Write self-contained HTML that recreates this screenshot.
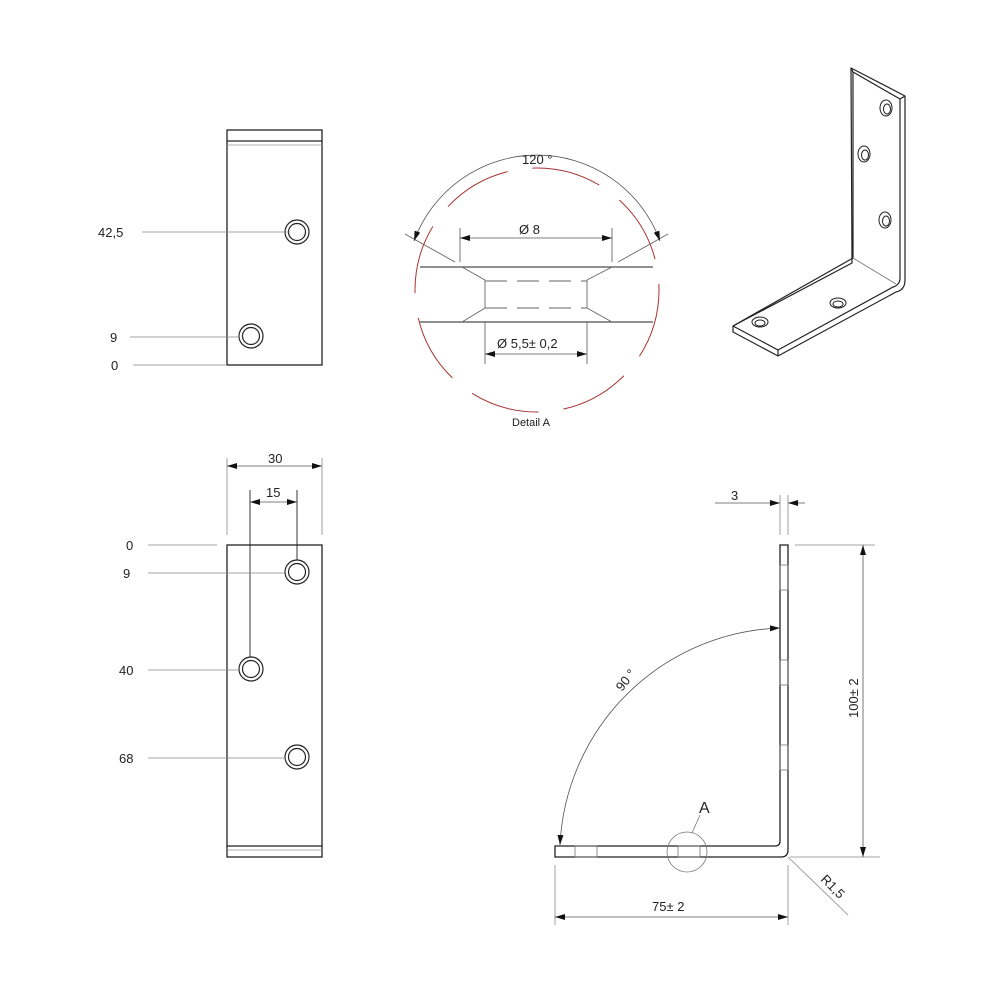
<!DOCTYPE html>
<html><head><meta charset="utf-8"><style>html,body{margin:0;padding:0;background:#fff}svg{display:block}</style></head><body>
<svg width="1000" height="1000" viewBox="0 0 1000 1000" xmlns="http://www.w3.org/2000/svg" font-family="Liberation Sans, sans-serif" font-size="13" fill="none">
<defs>
<marker id="ar" viewBox="0 0 10 6" refX="10" refY="3" markerWidth="10" markerHeight="6" orient="auto-start-reverse" markerUnits="userSpaceOnUse"><path d="M0,0L10,3L0,6z" fill="#111"/></marker>
</defs>
<!-- top-left view -->
<g stroke="#222">
<rect x="227" y="130" width="95" height="235" stroke-width="1.3"/>
<line x1="227" y1="141" x2="322" y2="141" stroke-width="1.3"/>
<line x1="227" y1="145" x2="322" y2="145" stroke="#999" stroke-width="0.8"/>
<circle cx="297" cy="232" r="12" stroke-width="1.2"/><circle cx="297" cy="232" r="8.5" stroke-width="1.2"/>
<circle cx="251" cy="336" r="12" stroke-width="1.2"/><circle cx="251" cy="336" r="8.5" stroke-width="1.2"/>
</g>
<g stroke="#888" stroke-width="0.8">
<line x1="142" y1="232" x2="290" y2="232"/><line x1="130" y1="337" x2="240" y2="337"/><line x1="133" y1="365" x2="227" y2="365"/>
</g>
<g fill="#222"><text x="98" y="237">42,5</text><text x="110" y="342">9</text><text x="111" y="370">0</text></g>

<!-- bottom-left view -->
<g stroke="#222">
<rect x="227" y="545" width="95" height="312" stroke-width="1.3"/>
<line x1="227" y1="846" x2="322" y2="846" stroke-width="1.3"/>
<line x1="227" y1="850" x2="322" y2="850" stroke="#999" stroke-width="0.8"/>
<circle cx="297" cy="572" r="12" stroke-width="1.2"/><circle cx="297" cy="572" r="8.5" stroke-width="1.2"/>
<circle cx="251" cy="669" r="12" stroke-width="1.2"/><circle cx="251" cy="669" r="8.5" stroke-width="1.2"/>
<circle cx="297" cy="757" r="12" stroke-width="1.2"/><circle cx="297" cy="757" r="8.5" stroke-width="1.2"/>
<line x1="250" y1="490" x2="250" y2="657" stroke-width="0.9"/>
<line x1="297" y1="490" x2="297" y2="560" stroke-width="0.9"/>
</g>
<g stroke="#888" stroke-width="0.8">
<line x1="148" y1="545" x2="217" y2="545"/><line x1="148" y1="573" x2="285" y2="573"/><line x1="148" y1="670" x2="239" y2="670"/><line x1="148" y1="758" x2="285" y2="758"/>
<line x1="227" y1="458" x2="227" y2="535"/><line x1="322" y1="458" x2="322" y2="535"/>
</g>
<g stroke="#555" stroke-width="0.8">
<line x1="227" y1="466" x2="322" y2="466" marker-start="url(#ar)" marker-end="url(#ar)"/>
<line x1="250" y1="502" x2="297" y2="502" marker-start="url(#ar)" marker-end="url(#ar)"/>
</g>
<g fill="#222"><text x="268" y="463">30</text><text x="266" y="497">15</text>
<text x="126" y="550">0</text><text x="123" y="578">9</text><text x="119" y="675">40</text><text x="119" y="763">68</text></g>

<!-- detail A -->
<circle cx="537" cy="290" r="122" stroke="#a33" stroke-width="1" stroke-dasharray="70 25"/>
<g stroke="#222" stroke-width="1.1">
<line x1="420" y1="267" x2="653" y2="267"/><line x1="420" y1="322" x2="653" y2="322"/>
</g>
<g stroke="#666" stroke-width="0.9">
<path d="M462,267L485,280L485,308L462,322M612,267L587,280L587,308L612,322"/>
<line x1="485" y1="281" x2="587" y2="281" stroke-dasharray="22 10"/>
<line x1="485" y1="308" x2="587" y2="308" stroke-dasharray="22 10"/>
<line x1="460" y1="228" x2="460" y2="262"/><line x1="612" y1="228" x2="612" y2="262"/>
<line x1="485" y1="322" x2="485" y2="364"/><line x1="587" y1="322" x2="587" y2="364"/>
<line x1="405" y1="234" x2="455" y2="262"/><line x1="668" y1="234" x2="618" y2="262"/>
</g>
<g stroke="#555" stroke-width="0.8">
<line x1="460" y1="238" x2="612" y2="238" marker-start="url(#ar)" marker-end="url(#ar)"/>
<line x1="485" y1="354" x2="587" y2="354" marker-start="url(#ar)" marker-end="url(#ar)"/>
<path d="M414,241A131,131 0 0 1 660,241" marker-start="url(#ar)" marker-end="url(#ar)"/>
</g>
<g fill="#222"><text x="519" y="234">Ø 8</text><text x="497" y="348">Ø 5,5± 0,2</text><text x="522" y="164">120 °</text>
<text x="512" y="426" font-size="11">Detail A</text></g>

<!-- isometric -->
<g stroke="#222" stroke-width="1.2" stroke-linejoin="round">
<path d="M851,68L905,96L905,280Q905,290 896,292L778,356L733,332L733,326L852,263Z" fill="#fff"/>
<path d="M851,68L853,72L900,99L905,96M900,99L900,278Q900,285 893,287L778,350L733,326M778,350L778,356"/>
<path d="M853,72L853,258L733,326" />
<path d="M853,258L896,284" stroke="#777" stroke-width="0.8"/>
<g stroke-width="1">
<ellipse cx="886" cy="108" rx="6" ry="8"/><ellipse cx="887" cy="109" rx="3.5" ry="5"/>
<ellipse cx="864" cy="154" rx="6" ry="8"/><ellipse cx="865" cy="155" rx="3.5" ry="5"/>
<ellipse cx="885" cy="220" rx="6" ry="8"/><ellipse cx="886" cy="221" rx="3.5" ry="5"/>
<ellipse cx="838" cy="303" rx="8" ry="5"/><ellipse cx="838" cy="304" rx="5" ry="3"/>
<ellipse cx="760" cy="322" rx="8" ry="5"/><ellipse cx="760" cy="323" rx="5" ry="3"/>
</g></g>

<!-- side view -->
<g stroke="#222" stroke-width="1.3">
<path d="M780,545L788,545L788,850Q788,857 781,857L555,857L555,846L775,846Q780,846 780,841Z"/>
</g>
<g stroke="#777" stroke-width="0.8">
<rect x="780" y="565" width="8" height="25"/><rect x="780" y="660" width="8" height="25"/><rect x="780" y="745" width="8" height="25"/>
<rect x="575" y="846" width="22" height="11"/><rect x="678" y="846" width="22" height="11"/>
</g>
<circle cx="687" cy="852" r="20" stroke="#777" stroke-width="0.8"/>
<line x1="692" y1="833" x2="700" y2="815" stroke="#777" stroke-width="0.8"/>
<g stroke="#888" stroke-width="0.8">
<line x1="780" y1="495" x2="780" y2="535"/><line x1="788" y1="495" x2="788" y2="535"/>
<line x1="795" y1="545" x2="875" y2="545"/><line x1="790" y1="857" x2="880" y2="857"/>
<line x1="555" y1="865" x2="555" y2="925"/><line x1="788" y1="865" x2="788" y2="925"/>
<line x1="788" y1="857" x2="848" y2="915"/>
</g>
<g stroke="#555" stroke-width="0.8">
<line x1="715" y1="503" x2="780" y2="503" marker-end="url(#ar)"/>
<line x1="805" y1="503" x2="788" y2="503" marker-end="url(#ar)"/>
<line x1="863" y1="545" x2="863" y2="857" marker-start="url(#ar)" marker-end="url(#ar)"/>
<line x1="555" y1="917" x2="788" y2="917" marker-start="url(#ar)" marker-end="url(#ar)"/>
<path d="M560,845A228,228 0 0 1 780,628" marker-start="url(#ar)" marker-end="url(#ar)"/>
</g>
<g fill="#222"><text x="731" y="500">3</text><text x="652" y="911">75± 2</text>
<text x="0" y="0" transform="translate(858,718) rotate(-90)">100± 2</text>
<text x="0" y="0" transform="translate(820,880) rotate(45)">R1,5</text>
<text x="0" y="0" transform="translate(622,692) rotate(-52)">90 °</text>
<text x="699" y="813" font-size="16">A</text></g>
</svg>
</body></html>
